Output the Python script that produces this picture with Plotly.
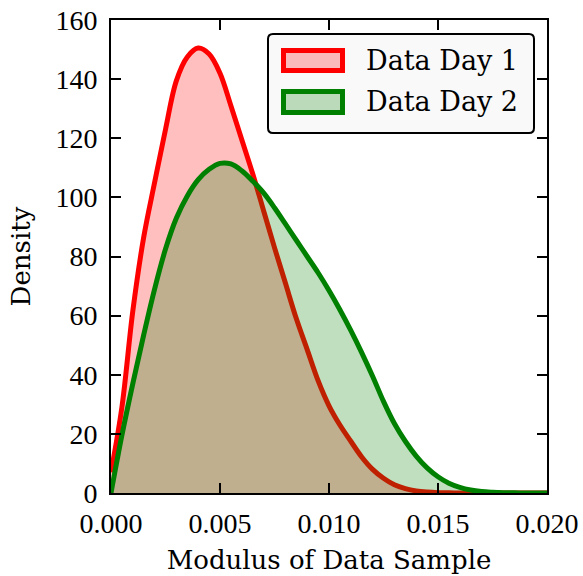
import plotly.graph_objects as go

# ---- data ----
x_vals = [0.0, 0.0005, 0.001, 0.0015, 0.002, 0.0025, 0.003, 0.0035, 0.004, 0.0045,
          0.005, 0.0055, 0.006, 0.0065, 0.007, 0.0075, 0.008, 0.0085, 0.009, 0.0095,
          0.010, 0.0105, 0.011, 0.0115, 0.012, 0.0125, 0.013, 0.0135, 0.014, 0.0145,
          0.015, 0.0155, 0.016, 0.0165, 0.017, 0.0175, 0.018, 0.0185, 0.019, 0.0195, 0.020]
day1 = [7, 29, 61.5, 86.5, 105, 123, 139.5, 147.5, 150.5, 148.5,
        142, 131, 119.5, 108, 95.5, 83, 71, 59, 48.5, 38,
        29.5, 23, 17.5, 12.2, 8, 5, 2.8, 1.5, 0.7, 0.3,
        0.1, 0.05, 0, 0, 0, 0, 0, 0, 0, 0, 0]
day2 = [0, 19.5, 37, 53.5, 69, 82.5, 93, 100.5, 106, 109.5,
        111.5, 111.3, 109, 105.5, 101.5, 96.5, 91, 85.5, 80, 74.5,
        68.5, 62, 55, 47.5, 39.5, 31, 23.5, 17.5, 12.5, 8.5,
        5.5, 3.3, 1.9, 1.0, 0.5, 0.25, 0.1, 0.05, 0.02, 0.01, 0]
series_names = ["Data Day 1", "Data Day 2"]
x_ticks = [0.000, 0.005, 0.010, 0.015, 0.020]
x_ticklabels = ["0.000", "0.005", "0.010", "0.015", "0.020"]
y_ticks = [0, 20, 40, 60, 80, 100, 120, 140, 160]

line_colors = ["#ff0000", "#008000"]
fill_colors = ["rgba(255,0,0,0.25)", "rgba(0,128,0,0.25)"]

W, H = 583, 576
L, R, T, B = 111, 36, 20, 83
pw, ph = W - L - R, H - T - B

def px(X):
    return (X - L) / pw

def py(Y):
    return (H - B - Y) / ph

fig = go.Figure()
fig.add_trace(go.Scatter(x=x_vals, y=day1, mode="lines", name=series_names[0],
                         line=dict(color=line_colors[0], width=5, shape="spline", smoothing=1.0),
                         fill="tozeroy", fillcolor=fill_colors[0], showlegend=False,
                         xaxis="x", yaxis="y"))
fig.add_trace(go.Scatter(x=x_vals, y=day2, mode="lines", name=series_names[1],
                         line=dict(color=line_colors[1], width=5, shape="spline", smoothing=1.0),
                         fill="tozeroy", fillcolor=fill_colors[1], showlegend=False,
                         xaxis="x2", yaxis="y2"))

tickfont = dict(family="Liberation Serif", size=28, color="black")
axis_common = dict(showgrid=False, zeroline=False, showline=True, linecolor="black", linewidth=2,
                   ticks="inside", ticklen=10, tickwidth=1.5, tickcolor="black", mirror="allticks",
                   automargin=False)
title_font = dict(family="DejaVu Serif", size=26, color="black")

fig.update_layout(
    width=W, height=H,
    margin=dict(l=L, r=R, t=T, b=B, pad=0, autoexpand=False),
    paper_bgcolor="white", plot_bgcolor="white",
    xaxis=dict(range=[0, 0.02], tickvals=x_ticks, ticktext=x_ticklabels, tickfont=tickfont,
               ticklabelstandoff=4,
               title=dict(text="Modulus of Data Sample", font=title_font, standoff=13),
               **axis_common),
    yaxis=dict(range=[0, 160], tickvals=y_ticks, tickfont=tickfont, ticklabelstandoff=6,
               title=dict(text="Density", font=title_font, standoff=17),
               **axis_common),
    xaxis2=dict(range=[0, 0.02], overlaying="x", visible=False),
    yaxis2=dict(range=[0, 160], overlaying="y", visible=False),
)

# ---- legend (drawn as shapes + text) ----
x0, x1, y0, y1 = px(268), px(534), py(34), py(133)
rx, ry = 5 / pw, 5 / ph
path = (f"M{x0+rx},{y0} L{x1-rx},{y0} Q{x1},{y0} {x1},{y0-ry} L{x1},{y1+ry} Q{x1},{y1} {x1-rx},{y1} "
        f"L{x0+rx},{y1} Q{x0},{y1} {x0},{y1+ry} L{x0},{y0-ry} Q{x0},{y0} {x0+rx},{y0} Z")
fig.add_shape(type="path", path=path, xref="paper", yref="paper",
              fillcolor="#f9f9f9", line=dict(color="black", width=2), layer="above")
swatch_y = [(50.5, 70.5), (91.5, 112.5)]
text_y = [61, 102]
for i in range(2):
    fig.add_shape(type="rect", xref="paper", yref="paper",
                  x0=px(283.5), x1=px(342.5), y0=py(swatch_y[i][0]), y1=py(swatch_y[i][1]),
                  fillcolor=fill_colors[i], line=dict(color=line_colors[i], width=5), layer="above")
    fig.add_annotation(x=px(364), y=py(text_y[i]), xref="paper", yref="paper",
                       text=series_names[i], showarrow=False, xanchor="left", yanchor="middle",
                       font=dict(family="DejaVu Serif", size=27, color="black"))

fig.write_html("out.html")
